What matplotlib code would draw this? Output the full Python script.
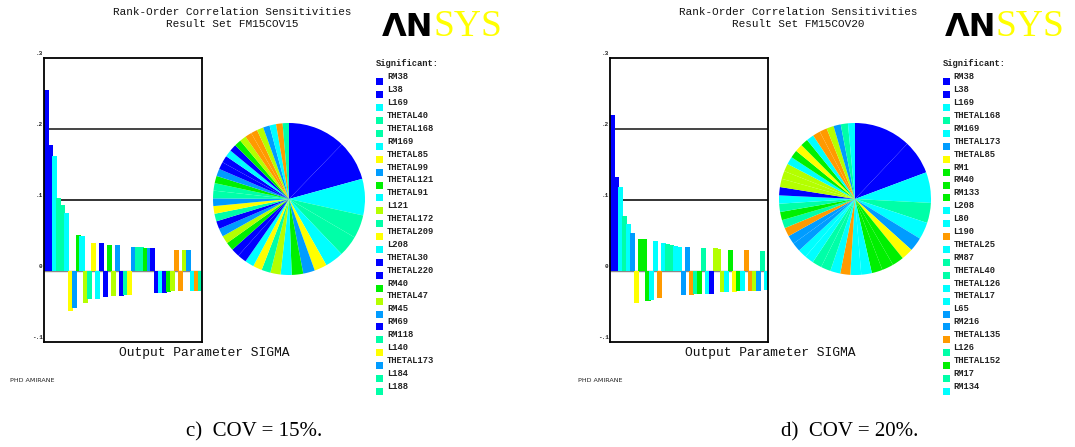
import numpy as np
import matplotlib
matplotlib.use("Agg")
import matplotlib.pyplot as plt
from matplotlib.patches import Rectangle

W, H = 1075, 447

# ---------------- data ----------------
PAL = {
    "blue": "#0000FF", "dodger": "#009CFF", "cyan": "#00FFFF", "aqua": "#00FFA8",
    "green": "#00F000", "ygreen": "#B4FF00", "yellow": "#FFFF00", "orange": "#FF9A00",
}

left_labels = ["RM38", "L38", "L169", "THETAL40", "THETAL168", "RM169", "THETAL85",
               "THETAL99", "THETAL121", "THETAL91", "L121", "THETAL172", "THETAL209",
               "L208", "THETAL30", "THETAL220", "RM40", "THETAL47", "RM45", "RM69",
               "RM118", "L140", "THETAL173", "L184", "L188"]
left_values = [0.255, 0.177, 0.162, 0.103, 0.093, 0.082, -0.056, -0.052, 0.051, 0.049,
               -0.045, -0.040, 0.040, -0.040, 0.040, -0.037, 0.037, -0.035, 0.036, -0.035,
               -0.034, -0.034, 0.034, 0.034, 0.033, 0.0325, 0.0325, 0.0325, -0.031, -0.031,
               -0.031, -0.030, -0.029, 0.029, -0.029, 0.029, 0.029, -0.029, -0.029, -0.028]
left_colors = ["blue", "blue", "cyan", "aqua", "aqua", "cyan", "yellow", "dodger", "green", "cyan",
               "ygreen", "aqua", "yellow", "cyan", "blue", "blue", "green", "ygreen", "dodger", "blue",
               "aqua", "yellow", "dodger", "aqua", "aqua", "green", "dodger", "blue", "blue", "cyan",
               "blue", "green", "ygreen", "orange", "orange", "ygreen", "dodger", "cyan", "orange", "aqua"]

right_labels = ["RM38", "L38", "L169", "THETAL168", "RM169", "THETAL173", "THETAL85", "RM1",
                "RM40", "RM133", "L208", "L80", "L190", "THETAL25", "RM87", "THETAL40",
                "THETAL126", "THETAL17", "L65", "RM216", "THETAL135", "L126", "THETAL152",
                "RM17", "RM134"]
right_values = [0.220, 0.132, 0.119, 0.078, 0.066, 0.054, -0.046, 0.045, 0.045, -0.042,
                -0.041, 0.042, -0.039, 0.039, 0.038, 0.037, 0.035, 0.034, -0.034, 0.034,
                -0.034, -0.032, -0.032, 0.032, -0.032, -0.032, 0.032, 0.031, -0.030, -0.030,
                0.030, -0.030, -0.029, -0.029, 0.029, -0.029, -0.028, -0.028, 0.028, -0.027]
right_colors = ["blue", "blue", "cyan", "aqua", "cyan", "dodger", "yellow", "green", "green", "green",
                "cyan", "cyan", "orange", "cyan", "aqua", "aqua", "cyan", "cyan", "dodger", "dodger",
                "orange", "aqua", "green", "aqua", "cyan", "blue", "ygreen", "ygreen", "ygreen", "cyan",
                "green", "yellow", "green", "cyan", "orange", "orange", "ygreen", "dodger", "aqua", "cyan"]

yticks = [0.3, 0.2, 0.1, 0.0, -0.1]
yticklabels = [".3", ".2", ".1", "0", "-.1"]

panels = [
    dict(dx=0, logo_dx=0, subtitle="Result Set FM15COV15", labels=left_labels,
         values=left_values, colors=left_colors, caption="c)  COV = 15%.", cap_x=254),
    dict(dx=566, logo_dx=563, subtitle="Result Set FM15COV20", labels=right_labels,
         values=right_values, colors=right_colors, caption="d)  COV = 20%.", cap_x=850),
]

MONO = "Liberation Mono"

fig = plt.figure(figsize=(W / 100, H / 100), dpi=100)
fig.patch.set_facecolor("white")


def px_axes(x0, y0, x1, y1, **kw):
    return fig.add_axes([x0 / W, 1 - y1 / H, (x1 - x0) / W, (y1 - y0) / H], **kw)


# overlay for free text / legend
ov = px_axes(0, 0, W, H, zorder=0)
ov.set_xlim(0, W)
ov.set_ylim(H, 0)
ov.axis("off")

for p in panels:
    dx = p["dx"]
    vals = np.array(p["values"])
    cols = [PAL[c] for c in p["colors"]]
    n = len(vals)

    # ---- bar chart ----
    ax = px_axes(44 + dx, 58.3, 201.7 + dx, 341.7, zorder=2)
    ax.axhline(0.1, color="#111111", lw=1.2, zorder=1)
    ax.axhline(0.2, color="#444444", lw=1.4, zorder=1)
    ax.axhline(0.0, color="#888888", lw=1.0, zorder=1)
    ax.bar(np.arange(n), vals, width=1.28, align="edge", color=cols, linewidth=0, zorder=3)
    ax.set_xlim(0, n)
    ax.set_ylim(-0.1, 0.3)
    ax.set_xticks([])
    ax.set_yticks([])
    for s in ax.spines.values():
        s.set_linewidth(1.3)
        s.set_color("black")
        s.set_zorder(5)
    for v, lab in zip(yticks, yticklabels):
        ax.annotate(lab, xy=(0, v), xycoords=("axes fraction", "data"), xytext=(-1, 1.5),
                    textcoords="offset points", ha="right", va="bottom", fontsize=4.3,
                    family=MONO, weight="bold", color="#222222", annotation_clip=False)

    # ---- pie ----
    pax = px_axes(213 + dx, 123, 365 + dx, 275, zorder=2)
    pax.pie(np.abs(vals), colors=cols, startangle=90, counterclock=False,
            wedgeprops=dict(linewidth=0))
    pax.set_xlim(-1, 1)
    pax.set_ylim(-1, 1)
    pax.set_aspect("equal")

    # ---- titles ----
    ov.text(232 + dx, 12, "Rank-Order Correlation Sensitivities", ha="center", va="center",
            fontsize=7.9, family=MONO, color="#111111")
    ov.text(232 + dx, 24, p["subtitle"], ha="center", va="center",
            fontsize=7.9, family=MONO, color="#111111")

    # ---- logo ----
    lx = 382 + p["logo_dx"]
    ov.text(lx, 36, "\u039bN", ha="left", va="baseline", fontsize=23,
            family="DejaVu Sans", weight="bold", color="black")
    ov.text(lx + 51, 36, "SYS", ha="left", va="baseline", fontsize=27,
            family="Liberation Serif", color="#FFFF00")

    # ---- legend ----
    lgx = 376 + dx * 1.001
    ov.text(lgx, 64, "Significant:", ha="left", va="center", fontsize=6.3,
            family=MONO, weight="bold", color="#222222")
    for i, lab in enumerate(p["labels"]):
        y = 76.7 + i * 12.9
        ov.add_patch(Rectangle((lgx, y + 1.6), 7.2, 7, color=PAL[p["colors"][i]], lw=0))
        ov.text(lgx + 11, y, lab, ha="left", va="center", fontsize=6.3,
                family=MONO, weight="bold", color="#222222")

    # ---- axis caption & footer ----
    ov.text(119 + dx, 353, "Output Parameter SIGMA", ha="left", va="center",
            fontsize=9.4, family=MONO, color="#111111")
    ov.text(10 + dx * 1.004, 381, "PHD AMIRANE", ha="left", va="center", fontsize=4.6,
            family="DejaVu Sans", color="#222222")

    # ---- figure caption ----
    ov.text(p["cap_x"], 432, p["caption"], ha="center", va="center", fontsize=15,
            family="Liberation Serif", color="black")

fig.savefig("out.png", dpi=100, facecolor="white")
